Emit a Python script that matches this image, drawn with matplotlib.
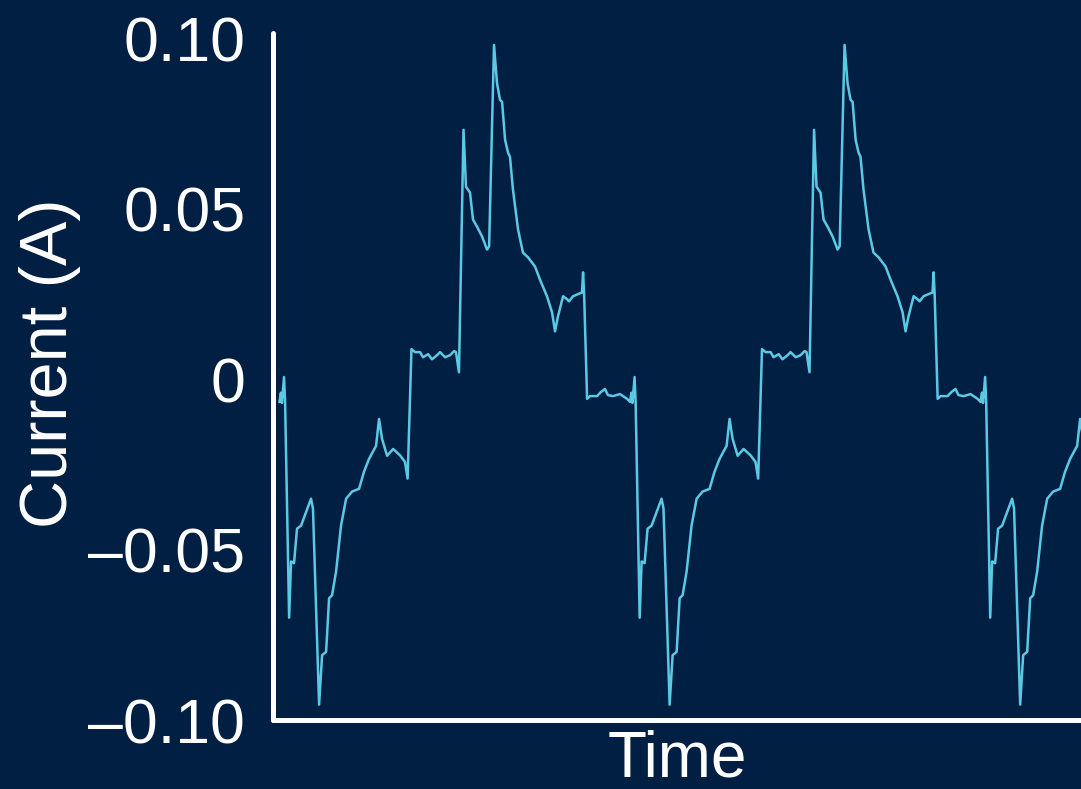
import numpy as np
import matplotlib
matplotlib.use("Agg")
import matplotlib.pyplot as plt
from matplotlib import font_manager
from matplotlib.ticker import FixedLocator, FixedFormatter

# One measured cycle of the supply current (time in ms from the switching spike, current in A)
cycle_ms = [0.00, 0.06, 0.29, 0.40, 0.57, 0.74, 0.97, 1.26, 1.54, 1.65,
            2.00, 2.17, 2.40, 2.57, 2.74, 2.97, 3.25, 3.54, 3.88, 4.28,
            4.56, 4.85, 5.25, 5.42, 5.59, 5.88, 6.22, 6.62, 6.90, 7.05,
            7.27, 7.47, 7.76, 7.93, 8.22, 8.44, 8.73, 8.90, 9.19, 9.47,
            9.70, 9.81, 9.98, 10.24, 10.38, 10.61, 10.78, 11.01, 11.30, 11.58,
            11.70, 11.98, 12.15, 12.32, 12.44, 12.61, 12.78, 12.89, 13.06, 13.35,
            13.63, 13.92, 14.32, 14.60, 15.00, 15.29, 15.46, 15.63, 15.92, 16.15,
            16.26, 16.49, 16.77, 17.00, 17.06, 17.12, 17.29, 17.46, 17.86, 18.08,
            18.31, 18.48, 18.77, 19.17, 19.57, 19.74, 19.82, 19.88]
cycle_amps = [0.0006, -0.0067, -0.0700, -0.0535, -0.0540, -0.0439, -0.0430, -0.0390, -0.0351, -0.0380,
              -0.0955, -0.0810, -0.0800, -0.0643, -0.0634, -0.0564, -0.0430, -0.0351, -0.0330, -0.0322,
              -0.0272, -0.0234, -0.0196, -0.0117, -0.0175, -0.0225, -0.0205, -0.0224, -0.0243, -0.0292,
              0.0088, 0.0079, 0.0079, 0.0064, 0.0073, 0.0058, 0.0070, 0.0079, 0.0064, 0.0070,
              0.0082, 0.0079, 0.0020, 0.0731, 0.0564, 0.0547, 0.0468, 0.0447, 0.0418, 0.0380,
              0.0389, 0.0980, 0.0868, 0.0819, 0.0813, 0.0702, 0.0664, 0.0652, 0.0556, 0.0439,
              0.0371, 0.0357, 0.0330, 0.0292, 0.0243, 0.0196, 0.0140, 0.0184, 0.0243, 0.0234,
              0.0228, 0.0243, 0.0249, 0.0254, 0.0313, 0.0250, -0.0058, -0.0050, -0.0050, -0.0038,
              -0.0029, -0.0047, -0.0050, -0.0044, -0.0058, -0.0067, -0.0040, -0.0070]

period_ms = 20.0          # 50 Hz mains
first_spike_ms = 0.37     # first switching spike after the record starts
cycle_index = [-1, 0, 1, 2]
record_end_ms = 45.84

y_ticks = [-0.10, -0.05, 0.0, 0.05, 0.10]
y_tick_labels = ["\u20130.10", "\u20130.05", "0", "0.05", "0.10"]

BG = "#011F43"
LINE = "#5CC9E4"
WHITE = "#FFFFFF"

available = {f.name for f in font_manager.fontManager.ttflist}
base_font = "Liberation Sans" if "Liberation Sans" in available else "DejaVu Sans"
plt.rcParams["font.family"] = [base_font, "DejaVu Sans"]

# Assemble the periodic trace from the measured cycle
t = np.concatenate([np.asarray(cycle_ms) + first_spike_ms + k * period_ms for k in cycle_index])
i = np.tile(np.asarray(cycle_amps), len(cycle_index))
keep = (t >= 0) & (t <= record_end_ms + 0.5)
t, i = t[keep], i[keep]

fig = plt.figure(figsize=(10.81, 7.89), dpi=100, facecolor=BG)
ax = fig.add_axes([273 / 1081, 69 / 789, 808 / 1081, 687 / 789])
ax.set_facecolor(BG)

ax.plot(t, i, color=LINE, lw=1.8, solid_joinstyle="round", clip_on=True)

ax.set_xlim(-0.26, record_end_ms)
ax.set_ylim(-0.1, 0.1015)

for side in ("top", "right"):
    ax.spines[side].set_visible(False)
for side in ("left", "bottom"):
    ax.spines[side].set_color(WHITE)
    ax.spines[side].set_linewidth(3.6)
    ax.spines[side].set_capstyle("round")

ax.set_xticks([])
ax.yaxis.set_major_locator(FixedLocator(y_ticks))
ax.yaxis.set_major_formatter(FixedFormatter(y_tick_labels))
ax.tick_params(axis="y", length=0, pad=20, labelsize=45, labelcolor=WHITE)

ax.set_xlabel("Time", fontsize=46, color=WHITE, labelpad=7)
ax.set_ylabel("Current (A)", fontsize=48, color=WHITE, va="center")
ax.yaxis.set_label_coords(-0.276, 0.52)

fig.savefig("out.png", dpi=100, facecolor=BG)
